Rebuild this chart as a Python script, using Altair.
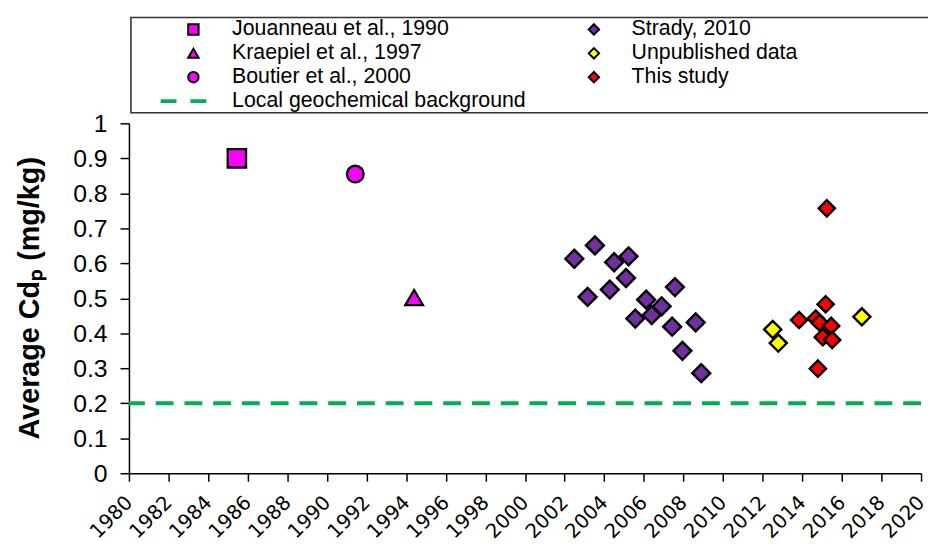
import altair as alt
import pandas as pd

# ---- data ----
jouanneau_year = [1985.45]
jouanneau_cd = [0.900]

boutier_year = [1991.43]
boutier_cd = [0.855]

kraepiel_year = [1994.40]
kraepiel_cd = [0.502]

strady_year = [2002.49, 2003.53, 2004.50, 2005.23, 2005.10, 2003.16, 2004.28, 2006.12,
               2006.90, 2006.40, 2005.57, 2007.57, 2007.43, 2008.62, 2007.95, 2008.90]
strady_cd = [0.613, 0.651, 0.603, 0.620, 0.558, 0.504, 0.525, 0.496,
             0.477, 0.452, 0.442, 0.532, 0.419, 0.431, 0.350, 0.286]

unpub_year = [2012.51, 2012.79, 2017.01]
unpub_cd = [0.411, 0.372, 0.447]

study_year = [2015.24, 2015.18, 2013.84, 2014.68, 2014.88, 2015.46, 2015.04, 2015.51, 2014.79]
study_cd = [0.757, 0.483, 0.438, 0.442, 0.430, 0.421, 0.389, 0.381, 0.299]

background_level = [0.2]

# legend order (row-major, two columns)
SERIES = ["Jouanneau et al., 1990", "Strady, 2010",
          "Kraepiel et al., 1997", "Unpublished data",
          "Boutier et al., 2000", "This study",
          "Local geochemical background"]
GREEN = "#00B050"
FILLS = ["#FF00FF", "#7030A0", "#FF00FF", "#FFFF00", "#FF00FF", "#FF0000", GREEN]
SHAPES = ["square", "diamond", "triangle-up", "diamond", "circle", "diamond", "stroke"]
SIZES = [340, 256, 225, 256, 269, 256, 10]

X_TICKS = list(range(1980, 2021, 2))
Y_TICKS = [round(i / 10, 1) for i in range(0, 11)]

# ---- tables ----
rows = []
for name, ys, vs in [
    ("Jouanneau et al., 1990", jouanneau_year, jouanneau_cd),
    ("Boutier et al., 2000", boutier_year, boutier_cd),
    ("Kraepiel et al., 1997", kraepiel_year, kraepiel_cd),
    ("Strady, 2010", strady_year, strady_cd),
    ("Unpublished data", unpub_year, unpub_cd),
    ("This study", study_year, study_cd),
]:
    for y, v in zip(ys, vs):
        rows.append({"year": y, "cd": v, "series": name})
pts = pd.DataFrame(rows)
bg = pd.DataFrame({"cd": background_level})
one = pd.DataFrame({"k": [0]})

x_axis = alt.Axis(values=X_TICKS, format="d", labelAngle=-45, labelAlign="right",
                  labelBaseline="middle", labelFont="DejaVu Sans", labelFontSize=20,
                  labelPadding=18, tickSize=8, title=None, labelOverlap=False)
y_axis = alt.Axis(values=Y_TICKS, format="~g", labelFont="Liberation Sans",
                  labelFontSize=25, labelPadding=13, tickSize=9,
                  title="Average Cdₚ (mg/kg)", titleFont="Liberation Sans",
                  titleFontSize=29, titleFontWeight="bold", titleX=-85, titleY=176)
x_scale = alt.Scale(domain=[1980, 2020], nice=False, zero=False)
y_scale = alt.Scale(domain=[0, 1], nice=False)

# ---- legend box and entries (decoration above the plot area) ----
box = alt.Chart(one).mark_rect(
    fill="white", fillOpacity=0, stroke="#333333", strokeWidth=1.6
).encode(x=alt.value(2), x2=alt.value(830), y=alt.value(-106.7), y2=alt.value(-10.7))

legend_layers = [box]
for i, name in enumerate(SERIES):
    col, row = i % 2, i // 2
    ys = -94.7 + 24.1 * row
    if SHAPES[i] == "stroke":
        legend_layers.append(
            alt.Chart(one).mark_rule(color=GREEN, strokeWidth=4, strokeDash=[16, 14]).encode(
                x=alt.value(32 + 404 * col), x2=alt.value(79 + 404 * col), y=alt.value(ys))
        )
    else:
        legend_layers.append(
            alt.Chart(one).mark_point(shape=SHAPES[i], filled=True, fill=FILLS[i],
                                      stroke="black", strokeWidth=2, size=110,
                                      opacity=1).encode(
                x=alt.value(65 + 404 * col), y=alt.value(ys))
        )
    legend_layers.append(
        alt.Chart(one).mark_text(align="left", baseline="middle", font="Liberation Sans",
                                 fontSize=21.5, color="black").encode(
            x=alt.value(104 + 403 * col), y=alt.value(ys), text=alt.value(name))
    )

rule = alt.Chart(bg).mark_rule(color=GREEN, strokeWidth=4, strokeDash=[18, 11]).encode(
    y=alt.Y("cd:Q", scale=y_scale, axis=y_axis)
)

points = alt.Chart(pts).mark_point(filled=True, opacity=1, stroke="black",
                                   strokeWidth=2.4).encode(
    x=alt.X("year:Q", scale=x_scale, axis=x_axis),
    y=alt.Y("cd:Q", scale=y_scale, axis=y_axis),
    shape=alt.Shape("series:N", scale=alt.Scale(domain=SERIES, range=SHAPES), legend=None),
    fill=alt.Fill("series:N", scale=alt.Scale(domain=SERIES, range=FILLS), legend=None),
    size=alt.Size("series:N", scale=alt.Scale(domain=SERIES, range=SIZES), legend=None),
)

chart = alt.layer(rule, points, *legend_layers).properties(
    width=799, height=353,
    autosize=alt.AutoSizeParams(type="none"),
    padding={"left": 122, "top": 114, "right": 7, "bottom": 67},
).configure_view(stroke=None).configure_axis(
    grid=False, domainColor="black", tickColor="black", domainWidth=1.5,
    tickWidth=1.5, labelColor="black", titleColor="black"
)

chart.save("out.html", embed_options={"renderer": "svg", "actions": False})
